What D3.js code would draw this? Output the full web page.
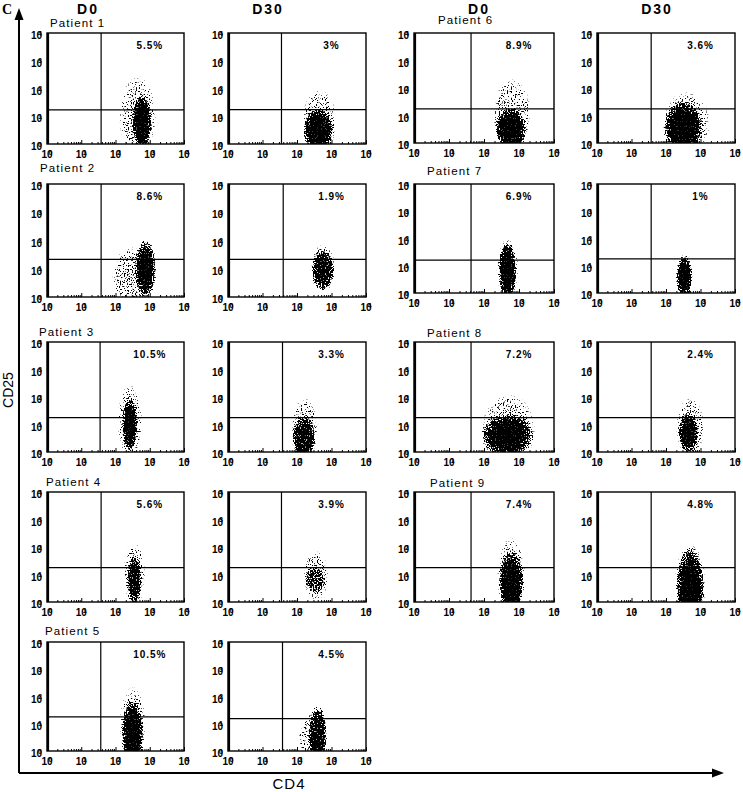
<!DOCTYPE html>
<html>
<head>
<meta charset="utf-8">
<script src="https://cdn.jsdelivr.net/npm/d3@7"></script>
<style>
  body { margin: 0; background: #fff; }
  text { font-family: "Liberation Sans", Arial, sans-serif; fill: #000; }
</style>
</head>
<body>
<svg id="chart" width="743" height="792"></svg>
<script>
// ---- data ----
var patients = ["Patient 1", "Patient 2", "Patient 3", "Patient 4", "Patient 5",
                "Patient 6", "Patient 7", "Patient 8", "Patient 9"];
var days = ["D0", "D30"];
var decades = [0, 1, 2, 3, 4];

// % of CD4+CD25+ (upper right quadrant)
var pctD0  = [5.5, 8.6, 10.5, 5.6, 10.5, 8.9, 6.9, 7.2, 7.4];
var pctD30 = [3, 1.9, 3.3, 3.9, 4.5, 3.6, 1, 2.4, 4.8];

// quadrant gates, in decades (log10)
var gateXD0  = [1.58, 1.58, 1.55, 1.58, 1.57, 1.63, 1.63, 1.63, 1.63];
var gateXD30 = [1.55, 1.6, 1.58, 1.55, 1.58, 1.57, 1.57, 1.57, 1.57];
var gateYD0  = [1.23, 1.33, 1.25, 1.25, 1.25, 1.24, 1.21, 1.25, 1.25];
var gateYD30 = [1.24, 1.33, 1.25, 1.25, 1.19, 1.24, 1.25, 1.25, 1.25];

// event clouds: [centre CD4, centre CD25, half-width, half-height] in decades
var coreD0 = [[2.77, 0.8, 0.3, 1.0], [2.88, 1.0, 0.32, 1.05], [2.42, 1.0, 0.23, 1.0],
              [2.55, 0.8, 0.22, 0.9], [2.5, 0.6, 0.33, 1.3], [2.77, 0.5, 0.46, 0.8],
              [2.67, 0.8, 0.26, 1.1], [2.67, 0.6, 0.75, 0.8], [2.78, 0.7, 0.36, 1.2]];
var haloD0 = [[2.65, 1.0, 0.6, 1.6], [2.45, 0.7, 0.6, 1.2], [2.42, 1.1, 0.4, 1.5],
              [2.55, 1.0, 0.35, 1.3], [2.5, 1.0, 0.42, 1.5], [2.8, 1.0, 0.6, 1.5],
              [2.67, 0.9, 0.35, 1.2], [2.7, 0.8, 0.85, 1.45], [2.78, 0.9, 0.45, 1.6]];
var coreD30 = [[2.62, 0.5, 0.45, 0.8], [2.75, 0.95, 0.33, 0.75], [2.2, 0.5, 0.35, 0.85],
               [2.52, 0.8, 0.3, 0.5], [2.6, 0.6, 0.28, 1.1], [2.5, 0.55, 0.58, 1.0],
               [2.53, 0.6, 0.23, 0.8], [2.65, 0.7, 0.3, 0.75], [2.7, 0.5, 0.42, 1.5]];
var haloD30 = [[2.65, 0.8, 0.55, 1.3], [2.75, 1.0, 0.4, 0.95], [2.22, 0.8, 0.42, 1.3],
               [2.55, 0.95, 0.4, 1.0], [2.45, 0.5, 0.45, 1.0], [2.6, 0.7, 0.75, 1.3],
               [2.53, 0.6, 0.28, 0.9], [2.7, 0.9, 0.45, 1.2], [2.7, 0.6, 0.5, 1.7]];
// relative event density of each core cloud
var densD0  = [1, 1, 1, 0.9, 1, 1, 1, 1, 1];
var densD30 = [1, 0.9, 0.9, 0.6, 0.9, 1, 1, 1, 1];

// ---- layout ----
var colLeft = [47, 228, 414, 597],
    colW = [137, 138, 140, 138],
    rowTop = [33, 184, 342, 492, 642],
    rowHLeft = [111, 113, 110, 110, 109],
    rowHRight = [110, 109, 110, 110];
var labelPos = [[50, 27], [40, 172], [39, 336], [46, 486], [45, 635],
                [438, 24], [427, 175], [427, 337], [430, 487]];

var svg = d3.select("#chart");
var defs = svg.append("defs");

var core = defs.append("radialGradient").attr("id", "coreGrad");
core.append("stop").attr("offset", 0).attr("stop-opacity", 1);
core.append("stop").attr("offset", 0.6).attr("stop-opacity", 0.95);
core.append("stop").attr("offset", 0.85).attr("stop-opacity", 0.55);
core.append("stop").attr("offset", 1).attr("stop-opacity", 0);
var halo = defs.append("radialGradient").attr("id", "haloGrad");
halo.append("stop").attr("offset", 0).attr("stop-opacity", 0.38);
halo.append("stop").attr("offset", 0.7).attr("stop-opacity", 0.27);
halo.append("stop").attr("offset", 1).attr("stop-opacity", 0);

var minor = [];
decades.slice(0, 4).forEach(function(k) {
  for (var m = 2; m < 10; m++) minor.push(k + Math.log10(m));
});

// "10" with its exponent tucked over the zero, as printed in the figure
function tickLabel(sel) {
  sel.attr("font-size", 10).attr("font-weight", "bold");
  sel.append("tspan").text("10");
  sel.append("tspan").attr("font-size", 7).attr("dx", -4).attr("dy", -3.5)
    .text(function(v) { return v; });
}

function panel(p, d) {
  var col = (p < 5 ? 0 : 2) + d,
      row = p < 5 ? p : p - 5,
      w = colW[col],
      h = p < 5 ? rowHLeft[row] : rowHRight[row],
      k = p * 2 + d;

  var x = d3.scaleLinear().domain([0, 4]).range([0, w]),
      y = d3.scaleLinear().domain([0, 4]).range([h, 0]);

  var g = svg.append("g")
      .attr("transform", "translate(" + colLeft[col] + "," + rowTop[row] + ")");

  defs.append("clipPath").attr("id", "clip" + k)
    .append("rect").attr("width", w).attr("height", h);

  var f = defs.append("filter").attr("id", "speck" + k)
      .attr("filterUnits", "userSpaceOnUse")
      .attr("x", -5).attr("y", -5).attr("width", w + 10).attr("height", h + 10)
      .attr("color-interpolation-filters", "sRGB");
  f.append("feTurbulence").attr("type", "fractalNoise")
      .attr("baseFrequency", 0.75).attr("numOctaves", 1).attr("seed", k + 3)
      .attr("result", "noise");
  f.append("feColorMatrix").attr("in", "noise").attr("type", "matrix")
      .attr("values", "0 0 0 0 0  0 0 0 0 0  0 0 0 0 0  3 0 0 0 -1")
      .attr("result", "n");
  f.append("feComposite").attr("in", "SourceAlpha").attr("in2", "n")
      .attr("operator", "arithmetic")
      .attr("k1", 0).attr("k2", 7.5).attr("k3", -6).attr("k4", -0.6);

  var clouds = [
    {c: (d ? haloD30 : haloD0)[p], fill: "url(#haloGrad)", o: 1},
    {c: (d ? coreD30 : coreD0)[p], fill: "url(#coreGrad)", o: (d ? densD30 : densD0)[p]}
  ];

  g.append("g").attr("clip-path", "url(#clip" + k + ")")
    .append("g").attr("filter", "url(#speck" + k + ")")
    .selectAll("ellipse").data(clouds).join("ellipse")
      .attr("cx", function(e) { return x(e.c[0]); })
      .attr("cy", function(e) { return y(e.c[1]); })
      .attr("rx", function(e) { return x(e.c[2]) - x(0); })
      .attr("ry", function(e) { return y(0) - y(e.c[3]); })
      .attr("fill", function(e) { return e.fill; })
      .attr("fill-opacity", function(e) { return e.o; });

  // minor ticks inside the frame
  g.append("g").attr("transform", "translate(0," + h + ")")
    .call(d3.axisBottom(x).tickValues(minor).tickSize(-2).tickFormat(""))
    .call(function(a) { a.select(".domain").remove(); });
  g.append("g")
    .call(d3.axisLeft(y).tickValues(minor).tickSize(-2).tickFormat(""))
    .call(function(a) { a.select(".domain").remove(); });
  g.append("g").attr("transform", "translate(0," + h + ")")
    .call(d3.axisBottom(x).tickValues(decades).tickSize(-4).tickFormat(""))
    .call(function(a) { a.select(".domain").remove(); });

  // quadrant gates
  var gx = (d ? gateXD30 : gateXD0)[p], gy = (d ? gateYD30 : gateYD0)[p];
  g.append("line").attr("x1", x(gx)).attr("x2", x(gx)).attr("y1", 0).attr("y2", h)
    .attr("stroke", "#000").attr("stroke-width", 1.2);
  g.append("line").attr("x1", 0).attr("x2", w).attr("y1", y(gy)).attr("y2", y(gy))
    .attr("stroke", "#000").attr("stroke-width", 1.2);

  // frame
  g.append("rect").attr("width", w).attr("height", h)
    .attr("fill", "none").attr("stroke", "#000").attr("stroke-width", 1.4);
  g.append("line").attr("x1", 1).attr("x2", 1).attr("y1", 0).attr("y2", h)
    .attr("stroke", "#000").attr("stroke-width", 2.2);

  // tick labels
  g.append("g").selectAll("text").data(decades).join("text")
    .attr("text-anchor", "middle")
    .attr("x", function(v) { return x(v); }).attr("y", h + 14)
    .call(tickLabel);
  g.append("g").selectAll("text").data(decades).join("text")
    .attr("text-anchor", "end")
    .attr("x", -5).attr("y", function(v) { return y(v) + 6; })
    .call(tickLabel);

  // percentage in upper right quadrant
  g.append("text").attr("x", w * 0.75).attr("y", 16)
    .attr("text-anchor", "middle").attr("font-size", 10).attr("font-weight", "bold")
    .attr("letter-spacing", 0.9)
    .text((d ? pctD30 : pctD0)[p] + "%");
}

patients.forEach(function(name, p) {
  days.forEach(function(day, d) { panel(p, d); });
  svg.append("text").attr("x", labelPos[p][0]).attr("y", labelPos[p][1])
    .attr("font-size", 11.5).attr("letter-spacing", 1.1).text(name);
});

// column headers
var headers = [[88, "D0"], [268, "D30"], [479, "D0"], [657, "D30"]];
svg.selectAll("text.hdr").data(headers).join("text").attr("class", "hdr")
  .attr("x", function(h) { return h[0]; }).attr("y", 14)
  .attr("text-anchor", "middle").attr("font-size", 14).attr("font-weight", "bold")
  .attr("letter-spacing", 2).text(function(h) { return h[1]; });

// outer axes with arrows
svg.append("path").attr("d", "M19,773 V18 M19,773 H713")
  .attr("fill", "none").attr("stroke", "#000").attr("stroke-width", 2);
svg.append("path").attr("d", "M19,8 L14.5,20 L23.5,20 Z").attr("fill", "#000");
svg.append("path").attr("d", "M724,773 L712,768.5 L712,777.5 Z").attr("fill", "#000");

svg.append("text").attr("x", 2).attr("y", 14).attr("font-size", 14)
  .attr("font-weight", "bold").style("font-family", "'Liberation Serif', serif").text("C");
svg.append("text").attr("transform", "translate(13,390) rotate(-90)")
  .attr("text-anchor", "middle").attr("font-size", 14).text("CD25");
svg.append("text").attr("x", 289).attr("y", 789).attr("text-anchor", "middle")
  .attr("font-size", 15).attr("letter-spacing", 1).text("CD4");
</script>
</body>
</html>
